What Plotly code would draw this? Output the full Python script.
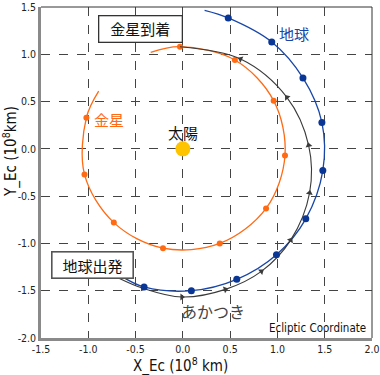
import numpy as np
import plotly.graph_objects as go

# ---- data (10^8 km, ecliptic coordinates) ----
earth_dot_x = [-0.41, 0.09, 0.57, 0.99, 1.30, 1.48, 1.47, 1.27, 0.94, 0.48]
earth_dot_y = [-1.46, -1.50, -1.38, -1.12, -0.74, -0.23, 0.28, 0.75, 1.13, 1.385]
earth_start = (-0.66, -1.34)
earth_end = (0.23, 1.465)

venus_dot_x = [-1.02, -1.04, -0.73, -0.21, 0.39, 0.88, 1.08, 0.96, 0.55, -0.03]
venus_dot_y = [0.33, -0.27, -0.78, -1.05, -1.00, -0.63, -0.07, 0.51, 0.94, 1.08]
venus_start = (-0.89, 0.61)
venus_end = (-0.34, 1.02)

akatsuki_x = [-0.67, -0.42, -0.01, 0.45, 0.83, 1.14, 1.34, 1.33, 1.10, 0.61, -0.03]
akatsuki_y = [-1.37, -1.475, -1.567, -1.486, -1.296, -0.965, -0.465, 0.038, 0.545, 0.95, 1.08]
akatsuki_arrow_idx = [1, 2, 3, 4, 5, 6, 7, 8, 9]

sun_x = [0.0]
sun_y = [0.0]

tick_vals = [-2.0, -1.5, -1.0, -0.5, 0.0, 0.5, 1.0, 1.5, 2.0]
tick_labels = ["-2.0", "-1.5", "-1.0", "-0.5", "0.0", "0.5", "1.0", "1.5", "2.0"]

# ---- styles ----
BLUE = "#1746a8"
BLUE_DOT = "#0a3696"
ORANGE = "#ff6a13"
DARK = "#3a3a3a"
JP = "Noto Sans CJK JP, Noto Sans, sans-serif"
NARROW = "Liberation Sans Narrow, DejaVu Sans Condensed, Arial, sans-serif"

fig = go.Figure()

# Venus orbit
vx = [venus_start[0]] + venus_dot_x + [venus_end[0]]
vy = [venus_start[1]] + venus_dot_y + [venus_end[1]]
fig.add_trace(go.Scatter(x=vx, y=vy, mode="lines", line=dict(color=ORANGE, width=1.3, shape="spline"),
                         hoverinfo="skip", showlegend=False))
fig.add_trace(go.Scatter(x=venus_dot_x, y=venus_dot_y, mode="markers",
                         marker=dict(color=ORANGE, size=6), showlegend=False))

# Earth orbit
ex = [earth_start[0]] + earth_dot_x + [earth_end[0]]
ey = [earth_start[1]] + earth_dot_y + [earth_end[1]]
fig.add_trace(go.Scatter(x=ex, y=ey, mode="lines", line=dict(color=BLUE, width=1.3, shape="spline"),
                         hoverinfo="skip", showlegend=False))

# Akatsuki trajectory
fig.add_trace(go.Scatter(x=akatsuki_x, y=akatsuki_y, mode="lines",
                         line=dict(color=DARK, width=1.1, shape="spline"),
                         hoverinfo="skip", showlegend=False))
ax_ = np.array(akatsuki_x)
ay_ = np.array(akatsuki_y)
angles = []
for i in akatsuki_arrow_idx:
    j0 = max(i - 1, 0)
    j1 = min(i + 1, len(ax_) - 1)
    dx = ax_[j1] - ax_[j0]
    dy = ay_[j1] - ay_[j0]
    angles.append(float(np.degrees(np.arctan2(dx, dy))))
fig.add_trace(go.Scatter(x=[akatsuki_x[i] for i in akatsuki_arrow_idx],
                         y=[akatsuki_y[i] for i in akatsuki_arrow_idx],
                         mode="markers",
                         marker=dict(symbol="triangle-up", size=6, color=DARK, angle=angles),
                         showlegend=False))

fig.add_trace(go.Scatter(x=earth_dot_x, y=earth_dot_y, mode="markers",
                         marker=dict(color=BLUE_DOT, size=7), showlegend=False))

# Sun
fig.add_trace(go.Scatter(x=sun_x, y=sun_y, mode="markers",
                         marker=dict(color="#ffc400", size=15), showlegend=False))

annotations = [
    dict(x=-0.446, y=1.27, text="金星到着", showarrow=False, font=dict(family=JP, size=15, color="#111"),
         bgcolor="white", bordercolor="#333", borderwidth=1.3, width=80, height=23, borderpad=1),
    dict(x=-0.96, y=-1.232, text="地球出発", showarrow=False, font=dict(family=JP, size=15, color="#111"),
         bgcolor="white", bordercolor="#555", borderwidth=1.6, width=78, height=23, borderpad=1),
    dict(x=1.174, y=1.218, text="地球", showarrow=False, font=dict(family=JP, size=15, color=BLUE)),
    dict(x=-0.781, y=0.309, text="金星", showarrow=False, font=dict(family=JP, size=15, color=ORANGE)),
    dict(x=0.0, y=0.177, text="太陽", showarrow=False, font=dict(family=JP, size=15, color="#111")),
    dict(x=0.318, y=-1.718, text="あかつき", showarrow=False, font=dict(family=JP, size=16, color="#444")),
    dict(xref="paper", yref="paper", x=0.987, y=0.03, xanchor="right", yanchor="middle",
         text="Ecliptic Coordinate", showarrow=False, font=dict(family=NARROW, size=11.5, color="#111")),
    dict(xref="paper", yref="paper", x=(180 - 41) / 331, y=-(365 - 338) / 331, xanchor="center", yanchor="middle",
         text="X_Ec (10<sup>8</sup> km)", showarrow=False, font=dict(family=NARROW, size=15, color="#111")),
    dict(xref="paper", yref="paper", x=-(41 - 10) / 331, y=(338 - 152) / 331, xanchor="center", yanchor="middle",
         text="Y_Ec (10<sup>8</sup>km)", textangle=-90, showarrow=False,
         font=dict(family=NARROW, size=15, color="#111")),
]

axis_common = dict(
    tickvals=tick_vals, ticktext=tick_labels, showgrid=True, gridcolor="#444", gridwidth=1,
    griddash="dash", zeroline=False, showline=True, linecolor="#8a8a8a", linewidth=2.5,
    ticks="", tickfont=dict(family=NARROW, size=10.5, color="#222"), automargin=False,
)

fig.update_layout(
    width=380, height=375,
    margin=dict(l=41, r=8, t=7, b=37, autoexpand=False),
    paper_bgcolor="white", plot_bgcolor="white",
    xaxis=dict(range=[-1.5, 2.0], constrain="domain", **axis_common),
    yaxis=dict(range=[-2.0, 1.5], scaleanchor="x", scaleratio=1, constrain="domain", **axis_common),
    annotations=annotations,
    shapes=[
        dict(type="line", xref="paper", yref="paper", x0=0, x1=1, y0=1, y1=1, line=dict(color="#333", width=1)),
        dict(type="line", xref="paper", yref="paper", x0=1, x1=1, y0=0, y1=1, line=dict(color="#333", width=1)),
    ],
    showlegend=False,
)

fig.write_html("out.html", config={"displayModeBar": False},
               post_script="document.body.style.margin='0';document.body.style.overflow='hidden';")
